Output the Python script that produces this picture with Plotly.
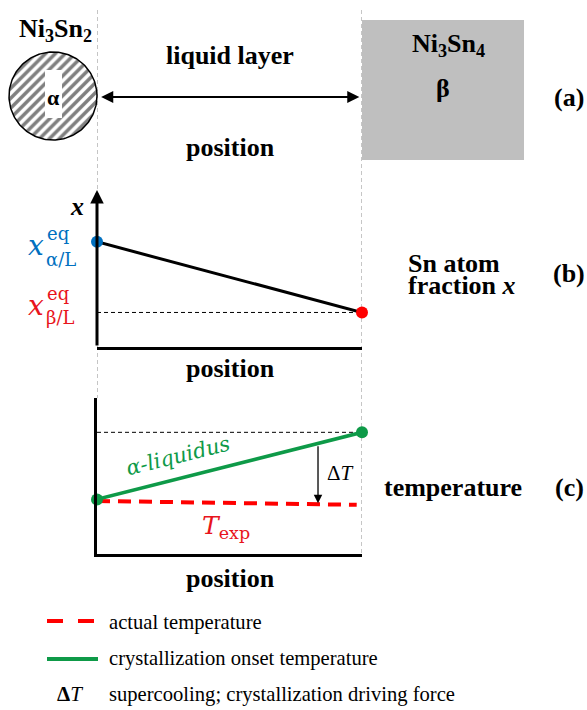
import numpy as np
import plotly.graph_objects as go

# ---------------- data ----------------
position = [0.0, 1.0]                 # left interface (alpha) -> right interface (beta)
sn_fraction = [0.67, 0.22]            # x_eq alpha/L , x_eq beta/L
liquidus_T = [0.35, 0.78]             # alpha-liquidus (crystallization onset temperature)
exp_pos = [0.0, 0.98]
exp_T = [0.34, 0.315]                 # actual temperature T_exp
deltaT_pos = 0.834
panel_labels = ["(a)", "(b)", "(c)"]
legend_texts = ["actual temperature", "crystallization onset temperature",
                "supercooling; crystallization driving force"]

W, H = 587, 710
SERIF = "Liberation Serif"
MATH = "DejaVu Serif"
BLUE = "#0070C0"
RED = "#FF0000"
REDTXT = "#E8141C"
GREEN = "#0E9A48"
BIG = 26

def py(p):
    return 1 - p / H

fig = go.Figure()

# ---- panel (a) hatched circle (base pixel axes) ----
t = np.linspace(0, 2 * np.pi, 200)
cx, cy, r = 53, 96, 44
fig.add_trace(go.Scatter(x=cx + r * np.cos(t), y=cy + r * np.sin(t), mode="lines",
                         fill="toself", fillcolor="white",
                         fillpattern=dict(shape="/", fgcolor="black", bgcolor="white",
                                          size=7, solidity=0.5),
                         line=dict(color="black", width=1.5),
                         xaxis="x", yaxis="y", hoverinfo="skip", showlegend=False))

# ---- panel (b) ----
fig.add_trace(go.Scatter(x=position, y=[sn_fraction[1]] * 2, mode="lines",
                         line=dict(color="black", width=1, dash="4px,3px"),
                         xaxis="x2", yaxis="y2", showlegend=False, hoverinfo="skip"))
fig.add_trace(go.Scatter(x=position, y=sn_fraction, mode="lines",
                         line=dict(color="black", width=3),
                         xaxis="x2", yaxis="y2", showlegend=False, hoverinfo="skip"))
fig.add_trace(go.Scatter(x=position, y=sn_fraction, mode="markers",
                         marker=dict(color=[BLUE, RED], size=12),
                         cliponaxis=False,
                         xaxis="x2", yaxis="y2", showlegend=False, hoverinfo="skip"))

# ---- panel (c) ----
fig.add_trace(go.Scatter(x=position, y=[liquidus_T[1]] * 2, mode="lines",
                         line=dict(color="black", width=1, dash="4px,3px"),
                         xaxis="x3", yaxis="y3", showlegend=False, hoverinfo="skip"))
fig.add_trace(go.Scatter(x=exp_pos, y=exp_T, mode="lines",
                         line=dict(color=RED, width=4, dash="13px,8px"),
                         xaxis="x3", yaxis="y3", showlegend=False, hoverinfo="skip"))
fig.add_trace(go.Scatter(x=position, y=liquidus_T, mode="lines+markers",
                         line=dict(color=GREEN, width=3.5),
                         marker=dict(color=GREEN, size=12),
                         cliponaxis=False,
                         xaxis="x3", yaxis="y3", showlegend=False, hoverinfo="skip"))

shapes = []
# vertical gray guide lines
shapes.append(dict(type="line", xref="x2", yref="paper", x0=0, x1=0, y0=py(10), y1=py(398),
                   line=dict(color="#8c8c8c", width=1, dash="4px,3px"), layer="below"))
shapes.append(dict(type="line", xref="x2", yref="paper", x0=1, x1=1, y0=py(10), y1=py(556),
                   line=dict(color="#8c8c8c", width=1, dash="4px,3px"), layer="below"))
# beta block
shapes.append(dict(type="rect", xref="x", yref="y", x0=362, x1=524, y0=20, y1=160,
                   fillcolor="#bfbfbf", line=dict(width=0), layer="below"))
# white clearing in circle
shapes.append(dict(type="rect", xref="x", yref="y", x0=45, x1=62, y0=70, y1=118,
                   fillcolor="white", line=dict(width=0), layer="above"))
# legend samples
shapes.append(dict(type="line", xref="x", yref="y", x0=47, x1=97, y0=621, y1=621,
                   line=dict(color=RED, width=4, dash="16px,15px")))
shapes.append(dict(type="line", xref="x", yref="y", x0=47, x1=98, y0=659, y1=659,
                   line=dict(color=GREEN, width=4)))

ann = []
def txt(x, y, s, size=BIG, color="black", family=SERIF, xanchor="center", **kw):
    ann.append(dict(x=x, y=y, xref="x", yref="y", text=s, showarrow=False,
                    font=dict(family=family, size=size, color=color),
                    xanchor=xanchor, yanchor="middle", **kw))

# panel (a) texts
txt(55, 30, "<b>Ni<sub>3</sub>Sn<sub>2</sub></b>", size=26)
txt(53, 97, "<b>α</b>", size=22)
txt(230, 55, "<b>liquid layer</b>")
txt(230, 147, "<b>position</b>")
txt(448, 45, "<b>Ni<sub>3</sub>Sn<sub>4</sub></b>", size=26)
txt(443, 88, "<b>β</b>")
# double arrow
ann.append(dict(x=0.99, y=97, xref="x2", yref="y", ax=0.01, ay=97, axref="x2", ayref="y",
                text="", showarrow=True, arrowhead=2, arrowside="end+start",
                arrowsize=1.1, arrowwidth=2.2, arrowcolor="black"))

# panel (b) texts
txt(77, 206, "<b><i>x</i></b>", size=26)
txt(36, 245, "<i>x</i>", size=28, color=BLUE, family=MATH)
txt(45, 233, "eq", size=18, color=BLUE, family=MATH, xanchor="left")
txt(44, 259, "α/L", size=18, color=BLUE, family=MATH, xanchor="left")
txt(36, 305, "<i>x</i>", size=28, color=REDTXT, family=MATH)
txt(45, 293, "eq", size=18, color=REDTXT, family=MATH, xanchor="left")
txt(44, 317, "β/L", size=18, color=REDTXT, family=MATH, xanchor="left")
txt(406, 263, "<b>Sn atom</b>", xanchor="left")
txt(406, 285, "<b>fraction <i>x</i></b>", xanchor="left")
txt(230, 368, "<b>position</b>")
# y-axis arrow of panel (b)
ann.append(dict(x=0, y=1, xref="x2", yref="y2", ax=0, ay=0, axref="x2", ayref="y2",
                text="", showarrow=True, arrowhead=2, arrowsize=0.9, arrowwidth=3,
                arrowcolor="black"))

# panel (c) texts
txt(178, 456, "<i>α-liquidus</i>", size=21, color=GREEN, family=MATH, textangle=-14)
txt(226, 527, "<i>T</i><sub>exp</sub>", size=25, color=REDTXT, family=MATH)
txt(340, 473, "Δ<i>T</i>", size=21)
txt(453, 487, "<b>temperature</b>")
txt(230, 578, "<b>position</b>")
ann.append(dict(x=deltaT_pos, y=exp_T[0] - 0.015, xref="x3", yref="y3",
                ax=deltaT_pos, ay=0.70, axref="x3", ayref="y3",
                text="", showarrow=True, arrowhead=2, arrowsize=1.3, arrowwidth=1.3,
                arrowcolor="black"))

# panel labels
for lab, yy in zip(panel_labels, [97, 273, 487]):
    txt(569, yy, "<b>" + lab + "</b>")

# legend texts
for s, yy in zip(legend_texts, [622, 658, 694]):
    txt(107, yy, s, size=20.6, xanchor="left")
txt(70, 694, "<b>Δ</b><i>T</i>", size=21)

fig.update_layout(
    width=W, height=H, margin=dict(l=0, r=0, t=0, b=0),
    paper_bgcolor="white", plot_bgcolor="rgba(0,0,0,0)",
    shapes=shapes, annotations=ann,
    xaxis=dict(domain=[0, 1], range=[0, W], visible=False, fixedrange=True),
    yaxis=dict(domain=[0, 1], range=[H, 0], visible=False, fixedrange=True),
    xaxis2=dict(domain=[97 / W, 362 / W], range=[0, 1], anchor="y2",
                showline=True, linewidth=3, linecolor="black",
                showgrid=False, zeroline=False, showticklabels=False, ticks=""),
    yaxis2=dict(domain=[py(347), py(190)], range=[0, 1], anchor="x2",
                showline=False, showgrid=False, zeroline=False, showticklabels=False, ticks=""),
    xaxis3=dict(domain=[97 / W, 362 / W], range=[0, 1], anchor="y3",
                showline=True, linewidth=3, linecolor="black",
                showgrid=False, zeroline=False, showticklabels=False, ticks=""),
    yaxis3=dict(domain=[py(554), py(398)], range=[0, 1], anchor="x3",
                showline=True, linewidth=3, linecolor="black",
                showgrid=False, zeroline=False, showticklabels=False, ticks=""),
)

fig.write_html("out.html", config={"displayModeBar": False},
               post_script="document.body.style.margin='0px';document.body.style.overflow='hidden';")
